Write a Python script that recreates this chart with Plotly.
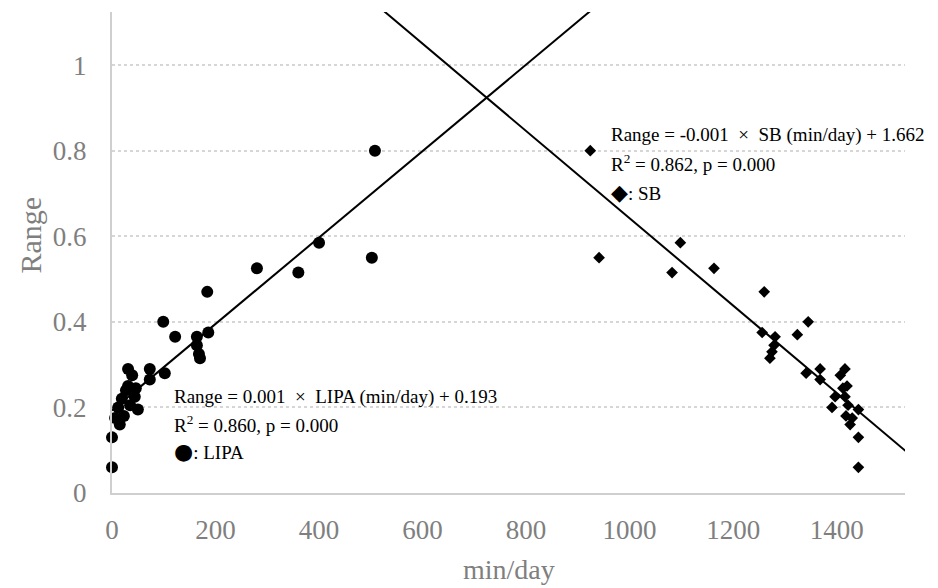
import plotly.graph_objects as go

# LIPA (min/day) vs Range
lipa_x = [0, 0, 6, 15, 12, 19, 23, 27, 31, 31, 39, 35, 44, 46, 50, 73, 73, 99, 102, 122,
          164, 164, 168, 170, 184, 186, 280, 400, 360, 502, 508]
lipa_y = [0.06, 0.13, 0.175, 0.16, 0.20, 0.22, 0.18, 0.24, 0.25, 0.29, 0.275, 0.205, 0.225, 0.245, 0.195,
          0.265, 0.29, 0.40, 0.28, 0.365, 0.365, 0.345, 0.325, 0.315, 0.47, 0.375, 0.525, 0.585, 0.515, 0.55, 0.80]

# SB (min/day) vs Range
sb_x = [924, 941, 1082, 1098, 1163, 1260, 1256, 1281, 1279, 1275, 1271, 1324, 1345, 1341, 1368, 1368,
        1391, 1397, 1407, 1416, 1412, 1420, 1416, 1422, 1418, 1426, 1430, 1442, 1442, 1442]
sb_y = [0.80, 0.55, 0.515, 0.585, 0.525, 0.47, 0.375, 0.365, 0.345, 0.33, 0.315, 0.37, 0.40, 0.28, 0.29, 0.265,
        0.20, 0.225, 0.275, 0.29, 0.245, 0.25, 0.225, 0.205, 0.18, 0.16, 0.175, 0.195, 0.13, 0.06]

# regression lines (slope, intercept)
lipa_fit = (0.00101, 0.193)
sb_fit = (-0.00102, 1.662)
lipa_line_x = [0, 1000]
sb_line_x = [400, 1600]

x_ticks = [0, 200, 400, 600, 800, 1000, 1200, 1400]
y_ticks = [0, 0.2, 0.4, 0.6, 0.8, 1]

SERIF = "Liberation Serif, Times New Roman, serif"
GRAY = "#7f7f7f"

fig = go.Figure()
fig.add_trace(go.Scatter(x=lipa_line_x, y=[lipa_fit[0] * v + lipa_fit[1] for v in lipa_line_x],
                         mode="lines", line=dict(color="black", width=2), showlegend=False))
fig.add_trace(go.Scatter(x=sb_line_x, y=[sb_fit[0] * v + sb_fit[1] for v in sb_line_x],
                         mode="lines", line=dict(color="black", width=2), showlegend=False))
fig.add_trace(go.Scatter(x=lipa_x, y=lipa_y, mode="markers", cliponaxis=False,
                         marker=dict(symbol="circle", size=12, color="black"), showlegend=False))
fig.add_trace(go.Scatter(x=sb_x, y=sb_y, mode="markers", cliponaxis=False,
                         marker=dict(symbol="diamond", size=9, color="black"), showlegend=False))

NB = "\u00a0"
SYM = '<span style="font-size:22px;font-family:DejaVu Sans">{}</span>'
anns = [
    dict(x=960, y=0.837, text=f"Range = -0.001{NB}{NB}×{NB}{NB}SB (min/day) + 1.662"),
    dict(x=960, y=0.772, text="R<sup>2</sup> = 0.862, p = 0.000"),
    dict(x=960, y=0.702, text=SYM.format("◆") + ": SB"),
    dict(x=116, y=0.224, text=f"Range = 0.001{NB}{NB}×{NB}{NB}LIPA (min/day) + 0.193"),
    dict(x=116, y=0.161, text="R<sup>2</sup> = 0.860, p = 0.000"),
    dict(x=116, y=0.096, text=SYM.format("●") + ": LIPA"),
]
for a in anns:
    fig.add_annotation(xref="x", yref="y", xanchor="left", yanchor="middle", showarrow=False,
                       font=dict(family=SERIF, size=19, color="black"), **a)

fig.add_annotation(xref="paper", yref="paper", x=-0.103, y=0.536, text="Range", textangle=-90,
                   showarrow=False, xanchor="center", yanchor="middle",
                   font=dict(family=SERIF, size=30, color=GRAY))
fig.add_annotation(xref="paper", yref="paper", x=0.5, y=-0.16, text="min/day",
                   showarrow=False, xanchor="center", yanchor="middle",
                   font=dict(family=SERIF, size=28, color=GRAY))

fig.update_layout(
    width=938, height=588,
    margin=dict(l=112, r=33, t=12, b=95),
    paper_bgcolor="white", plot_bgcolor="white",
    showlegend=False,
    xaxis=dict(range=[0, 1532], tickvals=x_ticks, showgrid=False, zeroline=False,
               showline=True, linecolor="#cfcfcf", linewidth=2, ticks="",
               tickfont=dict(family=SERIF, size=27, color=GRAY), ticklabelstandoff=12),
    yaxis=dict(range=[0, 1.124], tickvals=y_ticks, showgrid=True, gridcolor="#d6d6d6",
               griddash="dot", gridwidth=1.5, zeroline=False,
               showline=True, linecolor="#cfcfcf", linewidth=2, ticks="",
               tickfont=dict(family=SERIF, size=27, color=GRAY), ticklabelstandoff=18),
)

fig.write_html("out.html", config={"displayModeBar": False},
               post_script="document.body.style.margin='0';")
